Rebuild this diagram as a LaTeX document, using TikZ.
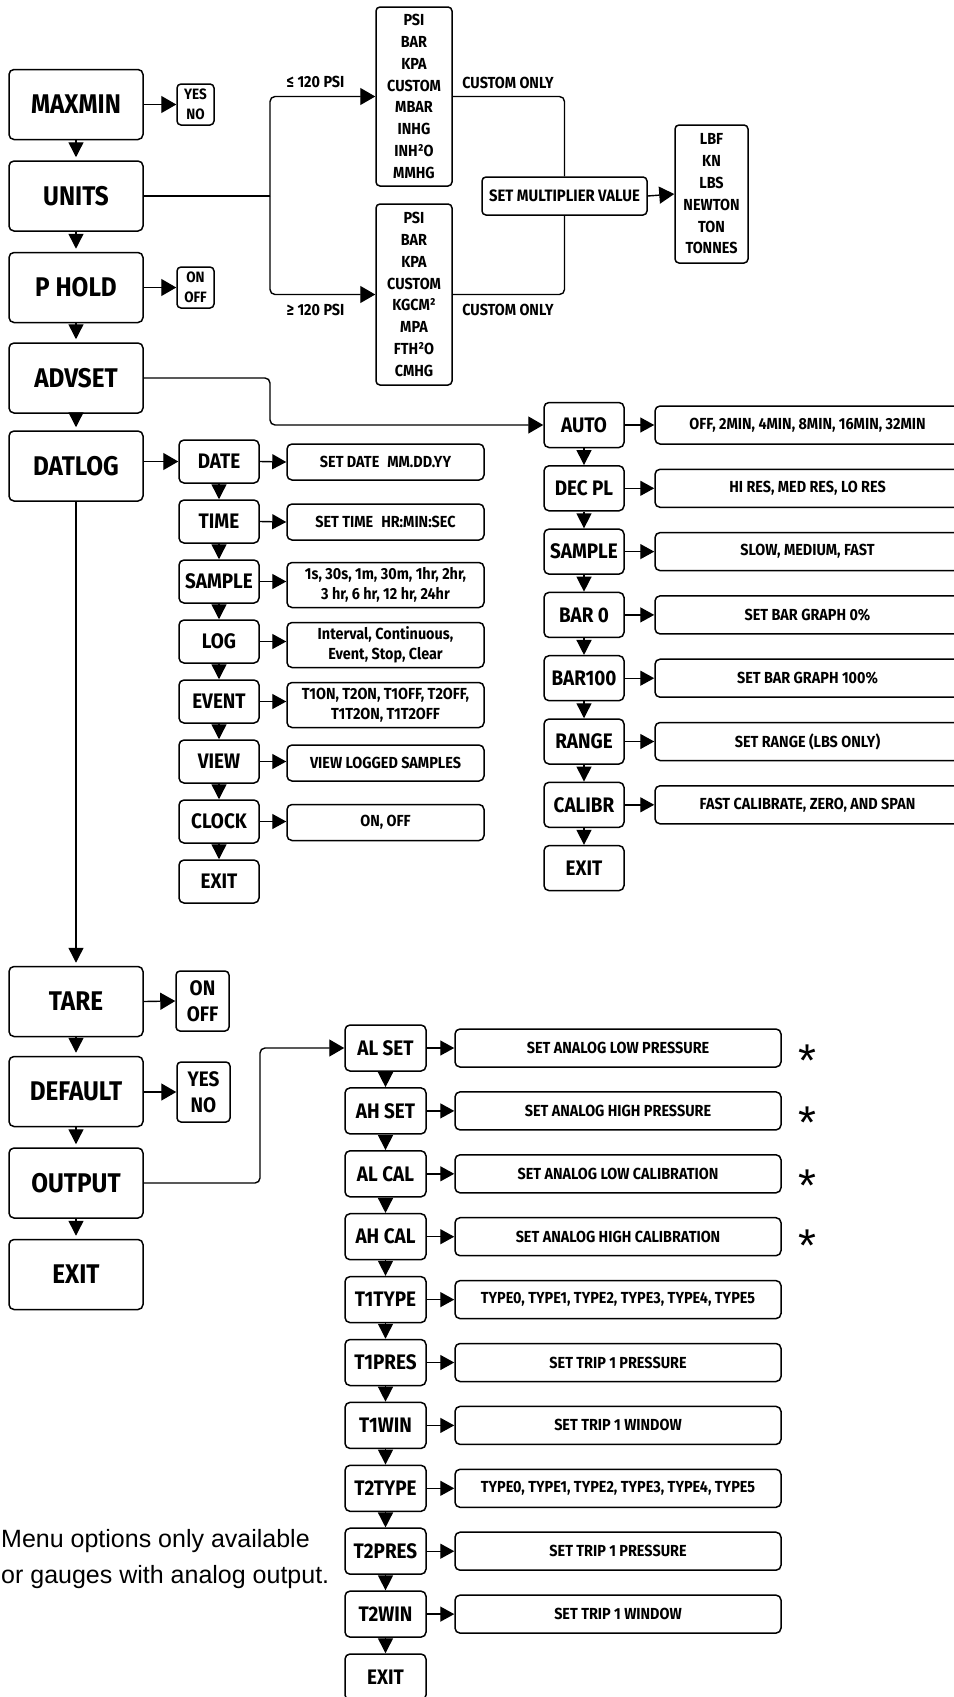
\documentclass[tikz,border=0pt]{standalone}
\usepackage{fontspec}
\setmainfont{Fira Sans}
\newfontfamily\fa{Fira Sans}[FakeStretch=0.9]
\newfontfamily\arialf{Liberation Sans}
\usetikzlibrary{arrows.meta}
\begin{document}
\begin{tikzpicture}[x=1pt,y=-1pt,
  box/.style={draw, line width=1.5pt, rounded corners=5pt, inner sep=0pt, align=center, text=black},
  big/.style={box, minimum width=134pt, minimum height=70pt, font=\fa\bfseries\fontsize{27}{30}\selectfont},
  yna/.style={box, rounded corners=4pt, minimum width=37pt, minimum height=41pt, font=\fa\bfseries\fontsize{15}{19.5}\selectfont},
  ynb/.style={box, rounded corners=4pt, minimum width=53pt, minimum height=60pt, font=\fa\bfseries\fontsize{21}{26}\selectfont},
  lst/.style={box, rounded corners=4pt, font=\fa\bfseries\fontsize{16}{21.8}\selectfont},
  lbl/.style={inner sep=0pt, font=\fa\bfseries\fontsize{16}{18}\selectfont},
  sub/.style={box, minimum width=80pt, font=\fa\bfseries\fontsize{21}{24}\selectfont},
  subd/.style={sub, minimum height=43pt},
  suba/.style={sub, minimum height=45pt},
  subo/.style={sub, minimum width=81pt, minimum height=46pt},
  val/.style={box, font=\fa\bfseries\fontsize{16}{19.5}\selectfont},
  vald/.style={val, minimum width=197pt, minimum height=36pt},
  valdd/.style={val, minimum width=197pt, minimum height=45pt},
  vala/.style={val, minimum width=305pt, minimum height=38pt},
  valo/.style={val, minimum width=326pt, minimum height=38pt},
  conn/.style={line width=1.4pt},
  harr/.style={conn, -{Triangle[length=15pt,width=17pt]}},
  sarr/.style={conn, -{Triangle[length=14pt,width=15pt]}},
  darr/.style={conn, -{Triangle[length=15pt,width=15pt]}},
  bdarr/.style={darr, shorten >=3pt},
  starmark/.style={inner sep=0pt, anchor=base, font=\arialf\fontsize{46}{46}\selectfont},
  foot/.style={inner sep=0pt, anchor=base west, font=\arialf\fontsize{25}{30}\selectfont}
]
\useasboundingbox (0,0) rectangle (953,1697);

% ---- left main column
\node[big] (maxmin) at (76,104.5) {MAXMIN};
\node[big] (units) at (76,196) {UNITS};
\node[big] (phold) at (76,287.5) {P HOLD};
\node[big] (advset) at (76,378) {ADVSET};
\node[big] (datlog) at (76,466) {DATLOG};
\node[big] (tare) at (76,1001.5) {TARE};
\node[big] (dflt) at (76,1091.5) {DEFAULT};
\node[big] (output) at (76,1183) {OUTPUT};
\node[big] (exita) at (76,1274.5) {EXIT};

\draw[bdarr] (maxmin.south) -- (units.north);
\draw[bdarr] (units.south) -- (phold.north);
\draw[bdarr] (phold.south) -- (advset.north);
\draw[bdarr] (advset.south) -- (datlog.north);
\draw[bdarr] (datlog.south) -- (tare.north);
\draw[bdarr] (tare.south) -- (dflt.north);
\draw[bdarr] (dflt.south) -- (output.north);
\draw[bdarr] (output.south) -- (exita.north);

% ---- yes/no boxes
\node[yna] (yn1) at (195.5,104.5) {YES\\NO};
\node[yna] (oo1) at (195.5,287.5) {ON\\OFF};
\node[ynb] (oo2) at (202.5,1001) {ON\\OFF};
\node[ynb] (yn2) at (203.5,1092) {YES\\NO};
\draw[harr] (maxmin.east) -- (yn1.west);
\draw[harr] (phold.east) -- (oo1.west);
\draw[harr] (tare.east) -- (oo2.west);
\draw[harr] (dflt.east |- yn2.west) -- (yn2.west);

% ---- units branch
\node[lst, minimum width=76pt, minimum height=179pt] (ul) at (414,96.5) {PSI\\BAR\\KPA\\CUSTOM\\MBAR\\INHG\\INH²O\\MMHG};
\node[lst, minimum width=76pt, minimum height=181pt] (ll) at (414,294.5) {PSI\\BAR\\KPA\\CUSTOM\\KGCM²\\MPA\\FTH²O\\CMHG};
\node[lbl] (le) at (315.5,82) {≤ 120 PSI};
\node[lbl] (ge) at (315.5,310) {≥ 120 PSI};
\node[lbl] (co1) at (508,83) {CUSTOM ONLY};
\node[lbl] (co2) at (508,310) {CUSTOM ONLY};
\node[box, rounded corners=4pt, minimum width=165pt, minimum height=38pt, font=\fa\bfseries\fontsize{16.5}{18}\selectfont] (smv) at (564.5,196) {SET MULTIPLIER VALUE};
\node[lst, minimum width=73pt, minimum height=138pt] (lbf) at (711.5,194) {LBF\\KN\\LBS\\NEWTON\\TON\\TONNES};

\coordinate (j1) at (270,196);
\draw[conn] (units.east) -- (j1);
\draw[harr, rounded corners=5pt] (j1) |- (ul.west);
\draw[harr, rounded corners=5pt] (j1) |- (ll.west);
\draw[conn, rounded corners=5pt] (ul.east) -| (smv.north);
\draw[conn, rounded corners=5pt] (ll.east) -| (smv.south);
\draw[harr] (smv.east) -- (lbf.west);

% ---- ADVSET column
\node[suba] (auto) at (584,425) {AUTO};
\node[suba] (decpl) at (584,488.3) {DEC PL};
\node[suba] (samplea) at (584,551.6) {SAMPLE};
\node[suba] (barz) at (584,614.9) {BAR 0};
\node[suba] (barh) at (584,678.2) {BAR100};
\node[suba] (range) at (584,741.5) {RANGE};
\node[suba] (calibr) at (584,804.8) {CALIBR};
\node[suba] (exitb) at (584,868.1) {EXIT};

\node[vala] (autov) at (807.5,425) {OFF, 2MIN, 4MIN, 8MIN, 16MIN, 32MIN};
\node[vala] (decplv) at (807.5,488.3) {HI RES, MED RES, LO RES};
\node[vala] (sampleav) at (807.5,551.6) {SLOW, MEDIUM, FAST};
\node[vala] (barzv) at (807.5,614.9) {SET BAR GRAPH 0\%};
\node[vala] (barhv) at (807.5,678.2) {SET BAR GRAPH 100\%};
\node[vala] (rangev) at (807.5,741.5) {SET RANGE (LBS ONLY)};
\node[vala] (calibrv) at (807.5,804.8) {FAST CALIBRATE, ZERO, AND SPAN};

\coordinate (j2) at (270,0);
\draw[harr, rounded corners=5pt] (advset.east) -- (advset.east -| j2) |- (auto.west);

\draw[darr] (auto.south) -- (decpl.north);
\draw[darr] (decpl.south) -- (samplea.north);
\draw[darr] (samplea.south) -- (barz.north);
\draw[darr] (barz.south) -- (barh.north);
\draw[darr] (barh.south) -- (range.north);
\draw[darr] (range.south) -- (calibr.north);
\draw[darr] (calibr.south) -- (exitb.north);

\draw[sarr] (auto.east) -- (autov.west);
\draw[sarr] (decpl.east) -- (decplv.west);
\draw[sarr] (samplea.east) -- (sampleav.west);
\draw[sarr] (barz.east) -- (barzv.west);
\draw[sarr] (barh.east) -- (barhv.west);
\draw[sarr] (range.east) -- (rangev.west);
\draw[sarr] (calibr.east) -- (calibrv.west);

% ---- DATLOG column
\node[subd] (date) at (219,461.5) {DATE};
\node[subd] (time) at (219,521.5) {TIME};
\node[subd] (sampled) at (219,581.5) {SAMPLE};
\node[subd] (log) at (219,641.5) {LOG};
\node[subd] (event) at (219,701.5) {EVENT};
\node[subd] (view) at (219,761.5) {VIEW};
\node[subd] (clock) at (219,821.5) {CLOCK};
\node[subd] (exitc) at (219,881.5) {EXIT};

\node[vald] (datev) at (385.5,462) {SET DATE\enspace MM.DD.YY};
\node[vald] (timev) at (385.5,522) {SET TIME\enspace HR:MIN:SEC};
\node[valdd] (sampledv) at (385.5,585) {1s, 30s, 1m, 30m, 1hr, 2hr,\\3 hr, 6 hr, 12 hr, 24hr};
\node[valdd] (logv) at (385.5,645) {Interval, Continuous,\\Event, Stop, Clear};
\node[valdd] (eventv) at (385.5,705) {T1ON, T2ON, T1OFF, T2OFF,\\T1T2ON, T1T2OFF};
\node[vald] (viewv) at (385.5,763) {VIEW LOGGED SAMPLES};
\node[vald] (clockv) at (385.5,822.5) {ON, OFF};

\draw[harr] (datlog.east |- date.west) -- (date.west);
\draw[darr] (date.south) -- (time.north);
\draw[darr] (time.south) -- (sampled.north);
\draw[darr] (sampled.south) -- (log.north);
\draw[darr] (log.south) -- (event.north);
\draw[darr] (event.south) -- (view.north);
\draw[darr] (view.south) -- (clock.north);
\draw[darr] (clock.south) -- (exitc.north);

\draw[sarr] (date.east) -- (datev.west);
\draw[sarr] (time.east) -- (timev.west);
\draw[sarr] (sampled.east) -- (sampled.east -| sampledv.west);
\draw[sarr] (log.east) -- (log.east -| logv.west);
\draw[sarr] (event.east) -- (event.east -| eventv.west);
\draw[sarr] (view.east) -- (view.east -| viewv.west);
\draw[sarr] (clock.east) -- (clock.east -| clockv.west);

% ---- OUTPUT column
\node[subo] (alset) at (385.5,1048) {AL SET};
\node[subo] (ahset) at (385.5,1110.9) {AH SET};
\node[subo] (alcal) at (385.5,1173.8) {AL CAL};
\node[subo] (ahcal) at (385.5,1236.7) {AH CAL};
\node[subo] (tatype) at (385.5,1299.6) {T1TYPE};
\node[subo] (tapres) at (385.5,1362.5) {T1PRES};
\node[subo] (tawin) at (385.5,1425.4) {T1WIN};
\node[subo] (tbtype) at (385.5,1488.3) {T2TYPE};
\node[subo] (tbpres) at (385.5,1551.2) {T2PRES};
\node[subo] (tbwin) at (385.5,1614.1) {T2WIN};
\node[subo] (exitd) at (385.5,1677) {EXIT};

\node[valo] (alsetv) at (618,1048) {SET ANALOG LOW PRESSURE};
\node[valo] (ahsetv) at (618,1110.9) {SET ANALOG HIGH PRESSURE};
\node[valo] (alcalv) at (618,1173.8) {SET ANALOG LOW CALIBRATION};
\node[valo] (ahcalv) at (618,1236.7) {SET ANALOG HIGH CALIBRATION};
\node[valo] (tatypev) at (618,1299.6) {TYPE0, TYPE1, TYPE2, TYPE3, TYPE4, TYPE5};
\node[valo] (tapresv) at (618,1362.5) {SET TRIP 1 PRESSURE};
\node[valo] (tawinv) at (618,1425.4) {SET TRIP 1 WINDOW};
\node[valo] (tbtypev) at (618,1488.3) {TYPE0, TYPE1, TYPE2, TYPE3, TYPE4, TYPE5};
\node[valo] (tbpresv) at (618,1551.2) {\raisebox{-4pt}{SET TRIP 1 PRESSURE}};
\node[valo] (tbwinv) at (618,1614.1) {SET TRIP 1 WINDOW};

\coordinate (j3) at (260,0);
\draw[harr, rounded corners=5pt] (output.east) -- (output.east -| j3) |- (alset.west);

\draw[darr] (alset.south) -- (ahset.north);
\draw[darr] (ahset.south) -- (alcal.north);
\draw[darr] (alcal.south) -- (ahcal.north);
\draw[darr] (ahcal.south) -- (tatype.north);
\draw[darr] (tatype.south) -- (tapres.north);
\draw[darr] (tapres.south) -- (tawin.north);
\draw[darr] (tawin.south) -- (tbtype.north);
\draw[darr] (tbtype.south) -- (tbpres.north);
\draw[darr] (tbpres.south) -- (tbwin.north);
\draw[darr] (tbwin.south) -- (exitd.north);

\draw[sarr] (alset.east) -- (alsetv.west);
\draw[sarr] (ahset.east) -- (ahsetv.west);
\draw[sarr] (alcal.east) -- (alcalv.west);
\draw[sarr] (ahcal.east) -- (ahcalv.west);
\draw[sarr] (tatype.east) -- (tatypev.west);
\draw[sarr] (tapres.east) -- (tapresv.west);
\draw[sarr] (tawin.east) -- (tawinv.west);
\draw[sarr] (tbtype.east) -- (tbtypev.west);
\draw[sarr] (tbpres.east) -- (tbpresv.west);
\draw[sarr] (tbwin.east) -- (tbwinv.west);

% ---- stars and footnote
\node[starmark] (s1) at (807,1076) {*};
\node[starmark] (s2) at (807,1138) {*};
\node[starmark] (s3) at (807,1201) {*};
\node[starmark] (s4) at (807,1261) {*};
\node[foot] (f1) at (1,1547) {Menu options only available};
\node[foot] (f2) at (1,1583) {or gauges with analog output.};
\end{tikzpicture}
\end{document}
